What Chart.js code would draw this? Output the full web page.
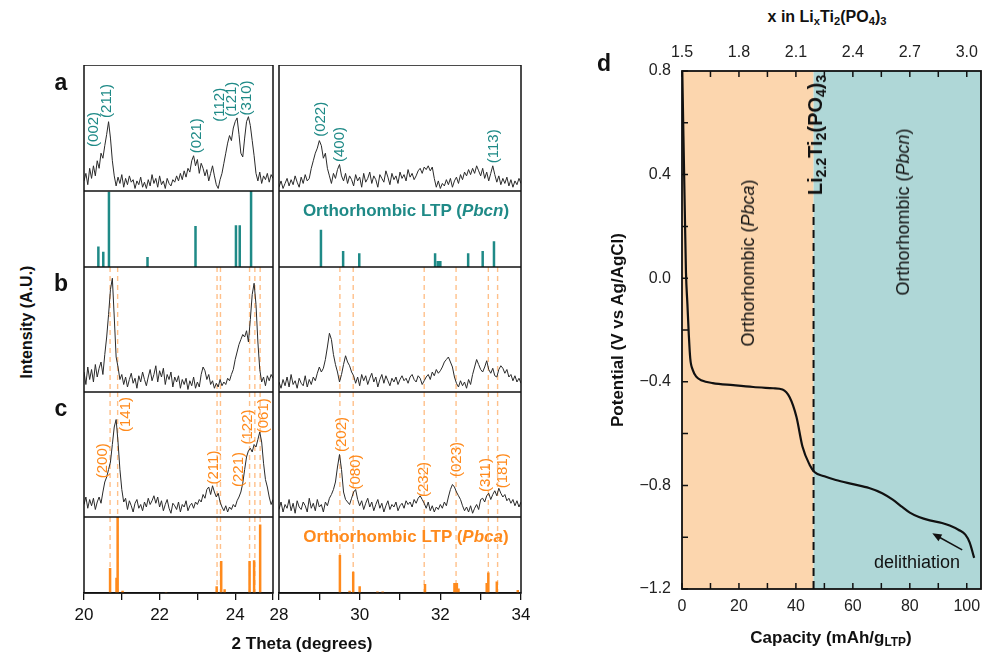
<!DOCTYPE html>
<html lang="en">
<head>
<meta charset="UTF-8" />
<title>LTP XRD and delithiation curve</title>
<script src="https://cdn.jsdelivr.net/npm/chart.js@4.4.1/dist/chart.umd.min.js"></script>
<style>
  body { margin: 0; width: 982px; height: 656px; background: #fff; position: relative; overflow: hidden;
         font-family: Arial, "Liberation Sans", sans-serif; color: #111; }
  canvas { position: absolute; }
  .t { position: absolute; z-index: 5; white-space: nowrap; transform: translate(-50%, -50%); line-height: 1; }
  .r { transform: translate(-50%, -50%) rotate(-90deg); }
  .b { font-weight: bold; }
  .letter { font-size: 23px; font-weight: bold; }
  sub { font-size: 0.7em; vertical-align: -0.3em; line-height: 0; }
</style>
</head>
<body>

<!-- panel letters and axis titles -->
<div class="t letter" style="left:61px; top:82px">a</div>
<div class="t letter" style="left:61px; top:283px">b</div>
<div class="t letter" style="left:61px; top:408px">c</div>
<div class="t letter" style="left:604px; top:63px">d</div>
<div class="t r b" style="left:27px; top:322px; font-size:16px">Intensity (A.U.)</div>
<div class="t b" style="left:302px; top:643px; font-size:17px">2 Theta (degrees)</div>
<div class="t b" style="left:406px; top:210px; font-size:17px; color:#1f8a87">Orthorhombic LTP (<i>Pbcn</i>)</div>
<div class="t b" style="left:406px; top:536px; font-size:17px; color:#ff8a1c">Orthorhombic LTP (<i>Pbca</i>)</div>

<div class="t b" style="left:827px; top:17px; font-size:16px">x in Li<sub>x</sub>Ti<sub>2</sub>(PO<sub>4</sub>)<sub>3</sub></div>
<div class="t b" style="left:831px; top:637px; font-size:17px">Capacity (mAh/g<sub>LTP</sub>)</div>
<div class="t r b" style="left:617px; top:330px; font-size:17px">Potential (V vs Ag/AgCl)</div>
<div class="t r" style="left:748px; top:263px; font-size:18px">Orthorhombic (<i>Pbca</i>)</div>
<div class="t r" style="left:903px; top:212px; font-size:18px">Orthorhombic (<i>Pbcn</i>)</div>
<div class="t r b" style="left:815px; top:135px; font-size:20px">Li<sub>2.2</sub>Ti<sub>2</sub>(PO<sub>4</sub>)<sub>3</sub></div>
<div class="t" style="left:917px; top:562px; font-size:18px">delithiation</div>

<script>
// ---------- XRD data (2theta sampled every 0.05 deg) ----------
const leftRange = [20, 25];
const rightRange = [28, 34];
const step = 0.05;

// a: pristine-like pattern
const aLeft = [8,14,5,18,10,20,12,24,18,30,26,36,45,55,42,24,12,4,
  11,6,13,3,10,5,12,7,9,2,8,5,11,3,7,2,9,4,13,6,10,3,12,5,8,2,10,6,4,9,7,12,8,14,9,16,11,18,
  15,24,28,20,25,14,22,18,12,17,8,14,20,12,5,2,9,14,
  22,30,38,44,40,50,55,58,45,30,27,42,55,59,52,40,28,14,8,15,6,12,9,14,7,13,10];
const aRight = [3,8,2,6,10,4,9,5,12,7,3,11,6,13,8,10,
  18,24,30,34,40,36,26,30,18,12,6,
  14,10,17,21,12,8,14,6,12,9,
  4,13,8,11,3,14,7,10,15,6,12,9,3,13,10,7,16,11,5,14,9,12,6,15,10,13,8,17,11,14,9,12,16,
  18,14,19,17,20,16,19,10,3,8,2,6,4,9,5,10,
  3,8,11,6,13,9,15,12,17,13,18,14,20,16,12,18,10,15,8,14,20,13,
  7,12,5,10,6,11,4,9,3,8,5,10,6];

// b
const bLeft = [16,6,20,10,18,8,22,12,19,24,14,
  30,44,62,82,91,60,28,20,10,
  14,6,12,4,10,15,7,11,3,13,8,16,10,5,12,18,9,14,
  21,8,17,12,19,6,14,10,16,4,12,8,13,
  3,10,6,11,2,9,5,12,3,8,4,
  14,20,17,10,14,6,
  9,3,7,4,10,5,8,6,11,9,
  14,18,26,32,38,42,46,44,49,40,58,78,87,70,40,18,8,
  12,5,13,9,14,11];
const bRight = [8,3,10,5,12,4,14,6,9,3,11,7,5,13,4,10,6,12,9,15,
  20,16,19,26,36,47,42,30,22,16,8,14,22,29,24,21,16,13,7,12,
  5,14,9,13,6,11,15,8,12,4,10,14,7,13,9,5,11,8,12,6,10,13,9,11,7,12,14,10,8,13,11,6,9,12,14,10,16,13,18,15,
  17,20,24,26,28,24,20,12,7,4,9,5,8,3,10,6,
  14,20,26,22,18,16,20,25,18,15,19,13,12,
  18,21,19,15,18,12,14,9,13,8,11,7];

// c
const cLeft = [10,16,7,14,9,15,6,12,16,11,
  20,28,32,38,44,58,72,78,60,38,22,12,
  15,6,13,9,4,11,14,7,10,5,12,8,15,10,13,17,11,16,8,13,5,10,14,7,3,11,9,6,12,4,10,8,13,5,9,11,7,12,
  10,14,12,18,15,22,24,18,25,20,16,19,12,
  8,5,9,4,8,6,
  10,8,13,16,20,27,38,48,53,55,52,58,56,
  62,68,60,43,30,24,16,10,14];
const cRight = [6,12,4,10,7,14,5,11,3,13,8,6,12,9,4,15,7,11,5,14,8,10,4,12,9,15,
  18,22,28,40,50,38,20,14,12,10,15,20,22,14,9,
  13,6,11,15,8,12,5,10,14,7,11,4,9,13,6,10,8,12,5,9,11,7,13,10,12,8,14,11,15,
  17,14,11,7,12,5,9,4,8,6,10,7,12,9,
  16,22,26,24,20,17,14,9,5,
  8,4,9,3,7,10,6,
  14,15,12,17,19,14,18,21,17,23,19,16,18,
  13,15,11,14,9,13,8,12];

// reference stick patterns (relative intensity, %)
const pbcnPos = [20.38, 20.51, 20.66, 21.68, 22.95, 24.02, 24.12, 24.42,
                 29.04, 29.59, 29.99, 31.87, 31.94, 32.00, 32.69, 33.05, 33.33];
const pbcnInt = [27, 20, 99, 13, 54, 55, 55, 100,
                 49, 21, 18, 18, 8, 8, 18, 21, 34];
const pbcaPos = [20.69, 20.86, 20.89, 21.02, 22.17, 23.51, 23.63, 23.72, 24.38, 24.50, 24.66,
                 29.51, 29.75, 29.84, 30.00, 30.44, 30.57, 31.62, 32.35, 32.41, 32.45, 33.15, 33.19, 33.40, 33.92];
const pbcaInt = [33, 20, 100, 3, 1, 9, 42, 5, 42, 43, 90,
                 50, 3, 28, 9, 2, 2, 12, 13, 13, 6, 13, 27, 15, 4];

// Pbca reflections marked with dashed lines in b and c
const pbcaRefs = [20.69, 20.89, 23.52, 23.61, 24.38, 24.52, 24.66,
                  29.51, 29.84, 31.60, 32.39, 33.19, 33.42];

// hkl labels: text, 2theta, intensity where the label starts
const hklA = [["(002)", 20.25, 35], ["(211)", 20.60, 58], ["(021)", 22.98, 30],
              ["(112)", 23.60, 55], ["(121)", 23.92, 59], ["(310)", 24.31, 60],
              ["(022)", 29.03, 43], ["(400)", 29.52, 23], ["(113)", 33.33, 22]];
const hklC = [["(200)", 20.51, 31], ["(141)", 21.10, 68], ["(211)", 23.44, 26],
              ["(221)", 24.11, 24], ["(122)", 24.33, 58], ["(061)", 24.77, 67],
              ["(202)", 29.55, 52], ["(080)", 29.90, 22], ["(232)", 31.60, 16],
              ["(023)", 32.40, 32], ["(311)", 33.14, 20], ["(181)", 33.54, 23]];

// ---------- d: delithiation curve ----------
const capacity = [0.1, 0.5, 1.0, 1.4, 1.9, 2.4, 2.9, 3.8, 5, 7, 10.8, 18, 25, 32, 35.3, 37.8, 40.2, 42.3, 44.8,
                  46.5, 50, 54, 60, 65.7, 70.3, 74, 77.3, 80, 83.2, 87, 91.3, 94, 97.2, 99.5, 101, 102.6];
const potential = [0.8, 0.55, 0.25, 0.02, -0.1, -0.22, -0.31, -0.355, -0.38, -0.395, -0.405, -0.413, -0.42, -0.425,
                   -0.43, -0.46, -0.536, -0.65, -0.72, -0.748, -0.765, -0.779, -0.795, -0.81, -0.83, -0.855,
                   -0.883, -0.905, -0.922, -0.935, -0.945, -0.955, -0.972, -0.99, -1.02, -1.08];
const phaseEdge = 46.2;          // Li2.2Ti2(PO4)3 composition
const edgeLineTop = 0.3;
const arrowFrom = [98.4, -1.049];
const arrowTo = [87.9, -0.985];
const capTicks = [0, 10, 20, 30, 40, 50, 60, 70, 80, 90, 100];
const xTicks = [1.5, 1.65, 1.8, 1.95, 2.1, 2.25, 2.4, 2.55, 2.7, 2.85, 3.0];
const vTicks = [-1.2, -1.0, -0.8, -0.6, -0.4, -0.2, 0, 0.2, 0.4, 0.6, 0.8];

// ---------- layout ----------
Chart.defaults.font.family = 'Arial, "Liberation Sans", sans-serif';
const INK = '#111';
const TEAL = '#1f8a87';
const ORANGE = '#ff8a1c';
const DASH_ORANGE = '#ffc08a';

const COLS = { L: { x: 84, w: 189, range: leftRange }, R: { x: 279, w: 242, range: rightRange } };
const ROWS = { a: { y: 65, h: 126 }, sa: { y: 191, h: 76 }, b: { y: 267, h: 125 }, c: { y: 392, h: 125 }, sc: { y: 517, h: 76 } };
const M = 24, AXIS_H = 48;

function addCanvas(left, top, w, h) {
  const c = document.createElement('canvas');
  c.width = w; c.height = h;
  c.style.left = left + 'px';
  c.style.top = top + 'px';
  document.body.appendChild(c);
  return c;
}

function profile(vals, x0) {
  return vals.map((v, i) => ({ x: +(x0 + i * step).toFixed(2), y: v }));
}

function sticks(pos, ints) {
  const pts = [];
  pos.forEach((p, i) => { pts.push({ x: p, y: 0 }, { x: p, y: ints[i] }, { x: p, y: null }); });
  return pts;
}

const frame = {
  id: 'frame',
  afterDatasetsDraw(chart) {
    const a = chart.chartArea, ctx = chart.ctx;
    ctx.save();
    ctx.strokeStyle = INK; ctx.lineWidth = 1.5;
    ctx.strokeRect(a.left, a.top, a.right - a.left, a.bottom - a.top);
    ctx.restore();
  }
};

function refLines(xs) {
  return {
    id: 'refLines',
    beforeDatasetsDraw(chart) {
      const { ctx, chartArea: a, scales: { x } } = chart;
      ctx.save();
      ctx.beginPath(); ctx.rect(a.left, a.top, a.right - a.left, a.bottom - a.top); ctx.clip();
      ctx.strokeStyle = DASH_ORANGE; ctx.lineWidth = 1.4; ctx.setLineDash([5, 4]);
      xs.forEach(v => {
        const px = x.getPixelForValue(v);
        ctx.beginPath(); ctx.moveTo(px, a.top); ctx.lineTo(px, a.bottom); ctx.stroke();
      });
      ctx.restore();
    }
  };
}

function hklLabels(items, color) {
  return {
    id: 'hkl',
    afterDatasetsDraw(chart) {
      const { ctx, scales: { x, y } } = chart;
      ctx.save();
      ctx.fillStyle = color;
      ctx.font = '15px Arial, "Liberation Sans", sans-serif';
      ctx.textAlign = 'left'; ctx.textBaseline = 'middle';
      items.forEach(([t, tx, ty]) => {
        if (tx < x.min || tx > x.max) return;
        ctx.save();
        ctx.translate(x.getPixelForValue(tx), y.getPixelForValue(ty));
        ctx.rotate(-Math.PI / 2);
        ctx.fillText(t, 0, 0);
        ctx.restore();
      });
      ctx.restore();
    }
  };
}

function xrdChart(col, row, datasets, extra, withAxis) {
  const C = COLS[col], R = ROWS[row];
  const cv = addCanvas(C.x - M, R.y, C.w + 2 * M, R.h + (withAxis ? AXIS_H : 0));
  const xScale = { type: 'linear', min: C.range[0], max: C.range[1], display: false };
  if (withAxis) {
    Object.assign(xScale, {
      display: true,
      afterFit: s => { s.height = AXIS_H; },
      border: { display: true, color: INK, width: 1.5 },
      grid: { drawOnChartArea: false, drawTicks: true, tickLength: 7, color: INK, lineWidth: 1.3 },
      ticks: { stepSize: 1, autoSkip: false, maxRotation: 0, padding: 5, color: INK, font: { size: 17 },
               callback: v => (v % 2 === 0 ? v : '') }
    });
  }
  return new Chart(cv, {
    type: 'line',
    data: { datasets },
    options: {
      responsive: false, animation: false, events: [],
      layout: { padding: { left: M, right: M, top: 0, bottom: 0 }, autoPadding: false },
      plugins: { legend: { display: false }, tooltip: { enabled: false } },
      elements: { point: { radius: 0 } },
      scales: { x: xScale, y: { min: 0, max: 100, display: false } }
    },
    plugins: [frame, ...extra]
  });
}

function lineSet(data) {
  return { data, borderColor: '#2a2a2a', borderWidth: 1, tension: 0, pointRadius: 0 };
}
function stickSet(data, color) {
  return { data, borderColor: color, borderWidth: 2.5, borderCapStyle: 'butt', pointRadius: 0, spanGaps: false };
}

// row a
xrdChart('L', 'a', [lineSet(profile(aLeft, leftRange[0]))], [hklLabels(hklA, TEAL)], false);
xrdChart('R', 'a', [lineSet(profile(aRight, rightRange[0]))], [hklLabels(hklA, TEAL)], false);
// Pbcn sticks
xrdChart('L', 'sa', [stickSet(sticks(pbcnPos, pbcnInt), TEAL)], [], false);
xrdChart('R', 'sa', [stickSet(sticks(pbcnPos, pbcnInt), TEAL)], [], false);
// row b
xrdChart('L', 'b', [lineSet(profile(bLeft, leftRange[0]))], [refLines(pbcaRefs)], false);
xrdChart('R', 'b', [lineSet(profile(bRight, rightRange[0]))], [refLines(pbcaRefs)], false);
// row c
xrdChart('L', 'c', [lineSet(profile(cLeft, leftRange[0]))], [refLines(pbcaRefs), hklLabels(hklC, ORANGE)], false);
xrdChart('R', 'c', [lineSet(profile(cRight, rightRange[0]))], [refLines(pbcaRefs), hklLabels(hklC, ORANGE)], false);
// Pbca sticks with x axis
xrdChart('L', 'sc', [stickSet(sticks(pbcaPos, pbcaInt), ORANGE)], [refLines(pbcaRefs)], true);
xrdChart('R', 'sc', [stickSet(sticks(pbcaPos, pbcaInt), ORANGE)], [refLines(pbcaRefs)], true);

// ---------- panel d ----------
const dDecor = {
  id: 'dDecor',
  beforeDatasetsDraw(chart) {
    const { ctx, chartArea: a, scales: { x } } = chart;
    const px = x.getPixelForValue(phaseEdge);
    ctx.save();
    ctx.fillStyle = '#fcd6ae';
    ctx.fillRect(a.left, a.top, px - a.left, a.bottom - a.top);
    ctx.fillStyle = '#afd7d7';
    ctx.fillRect(px, a.top, a.right - px, a.bottom - a.top);
    ctx.restore();
  },
  afterDatasetsDraw(chart) {
    const { ctx, chartArea: a, scales: { x, x2, y } } = chart;
    ctx.save();
    ctx.strokeStyle = INK; ctx.lineWidth = 1.5;
    const tl = 6;
    ctx.beginPath();
    capTicks.forEach(v => { const p = x.getPixelForValue(v); ctx.moveTo(p, a.bottom); ctx.lineTo(p, a.bottom - tl); });
    xTicks.forEach(v => { const p = x2.getPixelForValue(v); ctx.moveTo(p, a.top); ctx.lineTo(p, a.top + tl); });
    vTicks.forEach(v => { const p = y.getPixelForValue(v); ctx.moveTo(a.left, p); ctx.lineTo(a.left + tl, p); });
    ctx.stroke();
    ctx.lineWidth = 1.8;
    ctx.strokeRect(a.left, a.top, a.right - a.left, a.bottom - a.top);

    // arrow
    const x0 = x.getPixelForValue(arrowFrom[0]), y0 = y.getPixelForValue(arrowFrom[1]);
    const x1 = x.getPixelForValue(arrowTo[0]), y1 = y.getPixelForValue(arrowTo[1]);
    const ang = Math.atan2(y1 - y0, x1 - x0);
    ctx.lineWidth = 1.5;
    ctx.beginPath(); ctx.moveTo(x0, y0); ctx.lineTo(x1 - 6 * Math.cos(ang), y1 - 6 * Math.sin(ang)); ctx.stroke();
    ctx.fillStyle = INK;
    ctx.beginPath();
    ctx.moveTo(x1, y1);
    ctx.lineTo(x1 - 10 * Math.cos(ang - 0.4), y1 - 10 * Math.sin(ang - 0.4));
    ctx.lineTo(x1 - 10 * Math.cos(ang + 0.4), y1 - 10 * Math.sin(ang + 0.4));
    ctx.closePath(); ctx.fill();
    ctx.restore();
  }
};

const fmtV = v => {
  const r = Math.round(v * 10);
  if (r % 4 !== 0) return '';
  const s = Math.abs(r / 10).toFixed(1);
  return r < 0 ? '\u2212' + s : s;
};

// canvas runs past the page edge so the plot's right border lands at x = 981
const D_PAD_R = 39;
const dCanvas = addCanvas(600, 30, 382 + D_PAD_R - 1, 626);
new Chart(dCanvas, {
  type: 'line',
  data: {
    datasets: [
      { data: [{ x: phaseEdge, y: -1.2 }, { x: phaseEdge, y: edgeLineTop }], borderColor: INK, borderWidth: 2,
        borderDash: [8, 5], pointRadius: 0 },
      { data: capacity.map((c, i) => ({ x: c, y: potential[i] })), borderColor: INK, borderWidth: 2.2,
        cubicInterpolationMode: 'monotone', pointRadius: 0 }
    ]
  },
  options: {
    responsive: false, animation: false, events: [],
    layout: { padding: { left: 0, right: D_PAD_R, top: 0, bottom: 0 }, autoPadding: false },
    plugins: { legend: { display: false }, tooltip: { enabled: false } },
    scales: {
      x: { type: 'linear', position: 'bottom', min: 0, max: 105,
           afterFit: s => { s.height = 67; },
           grid: { display: false, drawTicks: false }, border: { display: false },
           ticks: { stepSize: 10, includeBounds: false, autoSkip: false, maxRotation: 0, padding: 8, color: '#222',
                    font: { size: 16 }, callback: v => (v % 20 === 0 ? v : '') } },
      x2: { type: 'linear', position: 'top', min: 1.5, max: 3.075,
            afterFit: s => { s.height = 41; },
            grid: { display: false, drawTicks: false }, border: { display: false },
            ticks: { stepSize: 0.15, includeBounds: false, autoSkip: false, maxRotation: 0, padding: 9, color: '#222',
                     font: { size: 16 }, callback: v => (Math.round(v * 100) % 30 === 0 ? v.toFixed(1) : '') } },
      y: { min: -1.2, max: 0.8,
           afterFit: s => { s.width = 82; },
           grid: { display: false, drawTicks: false }, border: { display: false },
           ticks: { stepSize: 0.2, autoSkip: false, padding: 11, color: '#222', font: { size: 16 }, callback: fmtV } }
    }
  },
  plugins: [dDecor]
});
</script>
</body>
</html>
